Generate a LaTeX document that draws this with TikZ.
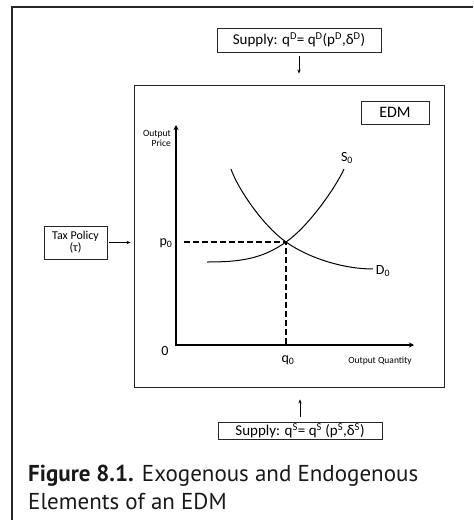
\documentclass[tikz,border=0pt]{standalone}
\usepackage{fontspec}
\setmainfont{Carlito}
\newfontfamily\capfont{PT Sans}
\usetikzlibrary{arrows.meta}
\tikzset{
  boxed/.style={draw=black!85, line width=0.9pt, inner sep=0pt, align=center},
  smallarr/.style={-{Stealth[length=4pt,width=3.2pt]}, line width=0.9pt},
  axisline/.style={{Stealth[length=5pt,width=5pt]}-{Stealth[length=5pt,width=5pt]}, line width=2.6pt, line join=miter},
  curve/.style={line width=1pt},
  guide/.style={line width=1.2pt, dash pattern=on 6pt off 3pt},
  lbl/.style={inner sep=0pt, font=\fontsize{14}{16}\selectfont},
  tiny/.style={inner sep=0pt, font=\fontsize{9.5}{10}\selectfont},
}
\begin{document}
\begin{tikzpicture}[x=1pt,y=-1pt]
\useasboundingbox (0,0) rectangle (474,520);
% outer frame
\coordinate (fr1) at (473,7);
\coordinate (fr2) at (12,7);
\coordinate (fr3) at (12,520);
\draw[line width=1.3pt, black!85] (fr1) -- (fr2) -- (fr3);

% main EDM box
\node[boxed, minimum width=310pt, minimum height=302pt] (edm) at (289,236) {};
\node[boxed, minimum width=68pt, minimum height=23pt, font=\fontsize{16}{18}\selectfont] (edmlbl) at (395,112.5) {EDM};

% supply boxes
\node[boxed, minimum width=164pt, minimum height=24pt, font=\fontsize{15}{17}\selectfont] (supD) at (299,40)
  {Supply: q\textsuperscript{D}= q\textsuperscript{D}(p\textsuperscript{D},δ\textsuperscript{D})};
\node[boxed, minimum width=164pt, minimum height=17pt, font=\fontsize{15}{17}\selectfont] (supS) at (300,431)
  {Supply: q\textsuperscript{S}= q\textsuperscript{S} (p\textsuperscript{S},δ\textsuperscript{S})};

% tax policy box
\node[boxed, minimum width=63pt, minimum height=33pt, font=\fontsize{12}{12}\selectfont] (tax) at (75.5,242.5)
  {Tax Policy\\(τ)};

% arrows into EDM
\draw[smallarr, shorten <=4pt, shorten >=11pt] (supD.south) -- (supD.south |- edm.north);
\draw[smallarr, shorten <=5pt, shorten >=12pt] (supS.north) -- (supS.north |- edm.south);
\draw[smallarr, shorten <=2pt, shorten >=3pt] (tax.east) -- (tax.east -| edm.west);

% axes
\coordinate (O) at (176,345);
\coordinate (Ytop) at (176,125);
\coordinate (Xend) at (414,345);
\draw[axisline] (Ytop) -- (O) -- (Xend);

% equilibrium
\coordinate (E) at (286,242);
\coordinate (pstart) at (184,242);
\coordinate (qfoot) at (286,345);
\draw[guide] (pstart) -- (E) -- (qfoot);

% supply curve
\coordinate (S1) at (207,262);
\coordinate (S2) at (344,169);
\draw[curve] (S1) .. controls (240,262) and (262,259) .. (E)
             .. controls (311,224.5) and (338,183) .. (S2);
% demand curve
\coordinate (D1) at (231,169);
\coordinate (D2) at (373,269);
\draw[curve] (D1) .. controls (237,187) and (262,225) .. (E)
             .. controls (310,259) and (345,269) .. (D2);

% labels
\node[lbl] (s0) at (347,158) {S\textsubscript{0}};
\node[lbl] (d0) at (383,271) {D\textsubscript{0}};
\node[lbl] (p0) at (166,243) {p\textsubscript{0}};
\node[lbl] (q0) at (288,360) {q\textsubscript{0}};
\node[lbl] (zero) at (165,351) {0};
\node[tiny, align=right, anchor=north east] (oprice) at (171,130) {Output\\Price};
\node[tiny] (oquant) at (380,361) {Output Quantity};

% caption
\node[inner sep=0pt, anchor=base west, font=\capfont\fontsize{23}{28}\selectfont, text=black!90] (cap1) at (28,481)
  {\textbf{Figure 8.1.} Exogenous and Endogenous};
\node[inner sep=0pt, anchor=base west, font=\capfont\fontsize{23}{28}\selectfont, text=black!90] (cap2) at (28,509)
  {Elements of an EDM};
\end{tikzpicture}
\end{document}
